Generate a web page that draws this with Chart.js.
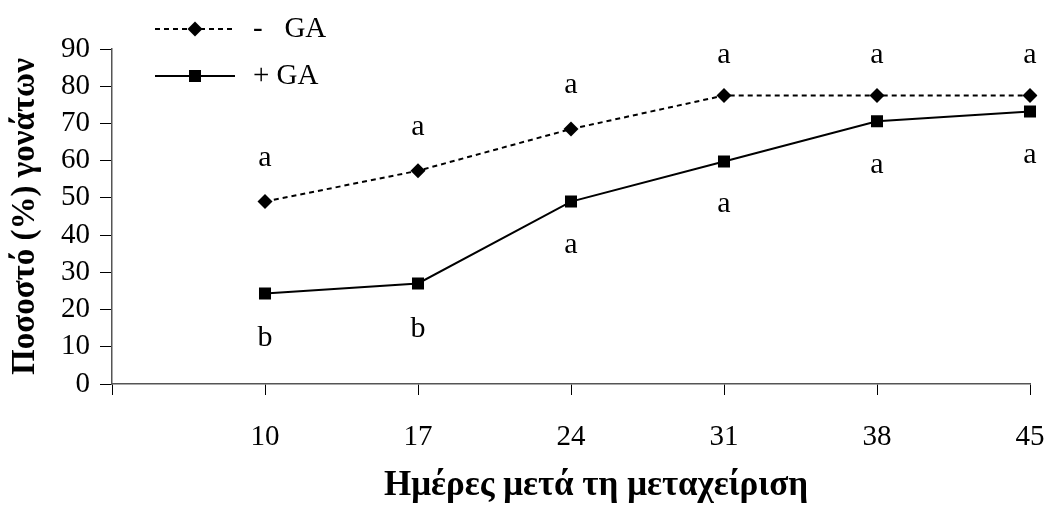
<!DOCTYPE html>
<html><head><meta charset="utf-8">
<script src="https://cdn.jsdelivr.net/npm/chart.js@4/dist/chart.umd.min.js"></script>
<style>html,body{margin:0;padding:0;background:#fff}#wrap{width:1046px;height:507px;position:relative}</style>
</head><body><div id="wrap"><canvas id="c" width="1046" height="507"></canvas></div>
<script>
// ---- data ----
const categories = ["", "10", "17", "24", "31", "38", "45"];
const minusGA = [null, 49, 57.3, 68.5, 77.5, 77.5, 77.5];
const plusGA = [null, 24.3, 27, 49, 59.8, 70.6, 73.2];
const minusGALetters = [null, "a", "a", "a", "a", "a", "a"];
const plusGALetters = [null, "b", "b", "a", "a", "a", "a"];
const minusGALetterY = [null, 60.8, 69.1, 80.4, 88.4, 88.4, 88.4];
const plusGALetterY = [null, 12.4, 14.8, 37.4, 48.4, 58.9, 61.6];
const yMin = 0, yMax = 90, yStep = 10;
const xTitle = "Ημέρες μετά τη μεταχείριση";
const yTitle = "Ποσοστό (%) γονάτων";
const legendLabels = ["-   GA", "+ GA"];

const SERIF = '"Liberation Serif", "Times New Roman", serif';

const lettersPlugin = {
  id: 'letters',
  afterDatasetsDraw(chart) {
    const {ctx, scales} = chart;
    ctx.save();
    ctx.font = '30px ' + SERIF;
    ctx.fillStyle = '#000';
    ctx.textAlign = 'center';
    ctx.textBaseline = 'middle';
    const draw = (letters, ys) => {
      letters.forEach((t, i) => {
        if (!t) return;
        ctx.fillText(t, scales.x.getPixelForValue(i), scales.y.getPixelForValue(ys[i]));
      });
    };
    draw(minusGALetters, minusGALetterY);
    draw(plusGALetters, plusGALetterY);
    ctx.restore();
  }
};

const xTitlePlugin = {
  id: 'xTitle',
  afterDraw(chart) {
    const ctx = chart.ctx;
    ctx.save();
    ctx.font = 'bold 35px ' + SERIF;
    ctx.fillStyle = '#000';
    ctx.textAlign = 'center';
    ctx.textBaseline = 'alphabetic';
    const ca = chart.chartArea;
    ctx.fillText(xTitle, (ca.left + ca.right) / 2 + 25, 495);
    ctx.restore();
  }
};

const legendPlugin = {
  id: 'customLegend',
  afterDraw(chart) {
    const ctx = chart.ctx;
    ctx.save();
    const rows = [
      {y: 29, dash: [5, 4], marker: 'diamond', text: legendLabels[0]},
      {y: 76, dash: [], marker: 'square', text: legendLabels[1]}
    ];
    rows.forEach(r => {
      ctx.strokeStyle = '#000';
      ctx.lineWidth = 2;
      ctx.setLineDash(r.dash);
      ctx.beginPath();
      ctx.moveTo(155, r.y);
      ctx.lineTo(235, r.y);
      ctx.stroke();
      ctx.setLineDash([]);
      ctx.fillStyle = '#000';
      ctx.beginPath();
      const cx = 195;
      if (r.marker === 'diamond') {
        const d = 7.5;
        ctx.moveTo(cx - d, r.y); ctx.lineTo(cx, r.y - d); ctx.lineTo(cx + d, r.y); ctx.lineTo(cx, r.y + d);
        ctx.closePath();
      } else {
        ctx.rect(cx - 6, r.y - 6, 12, 12);
      }
      ctx.fill();
      ctx.font = '29px ' + SERIF;
      ctx.textAlign = 'left';
      ctx.textBaseline = 'middle';
      ctx.fillText(r.text, 253, r.y);
    });
    ctx.restore();
  }
};

new Chart(document.getElementById('c'), {
  type: 'line',
  data: {
    labels: categories,
    datasets: [
      {label: legendLabels[0], data: minusGA, borderColor: '#000', backgroundColor: '#000', borderWidth: 2,
       borderDash: [5, 4], pointStyle: 'rectRot', pointRadius: 7.5, pointHoverRadius: 7.5, pointBorderWidth: 0, tension: 0, fill: false},
      {label: legendLabels[1], data: plusGA, borderColor: '#000', backgroundColor: '#000', borderWidth: 2,
       pointStyle: 'rect', pointRadius: 8.5, pointHoverRadius: 8.5, pointBorderWidth: 0, tension: 0, fill: false}
    ]
  },
  options: {
    responsive: false,
    devicePixelRatio: 1,
    animation: false,
    events: [],
    layout: {padding: {top: 49, right: 16, left: 0, bottom: 0}},
    plugins: {legend: {display: false}, tooltip: {enabled: false}, title: {display: false}},
    scales: {
      x: {
        type: 'category',
        offset: false,
        grid: {display: true, drawOnChartArea: false, drawTicks: true, tickLength: 11, color: '#000', lineWidth: 1},
        border: {display: true, color: '#555', width: 1.5},
        ticks: {color: '#000', font: {family: SERIF, size: 29}, padding: 25, autoSkip: false, maxRotation: 0},
        title: {display: false},
        afterFit(scale) { scale.height = 123; scale.paddingRight = 0; scale.paddingLeft = 0; }
      },
      y: {
        min: yMin, max: yMax,
        grid: {display: true, drawOnChartArea: false, drawTicks: true, tickLength: 12, color: '#000', lineWidth: 1},
        border: {display: true, color: '#555', width: 1.5},
        ticks: {stepSize: yStep, color: '#000', font: {family: SERIF, size: 29, lineHeight: 1.0}, padding: 10,
                autoSkip: false, maxTicksLimit: 20, count: undefined},
        afterBuildTicks(scale) {
          const t = [];
          for (let v = yMin; v <= yMax; v += yStep) t.push({value: v});
          scale.ticks = t;
        },
        title: {display: true, text: yTitle, color: '#000', font: {family: SERIF, size: 33, weight: 'bold'}, padding: {top: 6, bottom: 0}},
        afterFit(scale) { scale.width = 112; }
      }
    }
  },
  plugins: [lettersPlugin, xTitlePlugin, legendPlugin]
});
</script>
</body></html>
